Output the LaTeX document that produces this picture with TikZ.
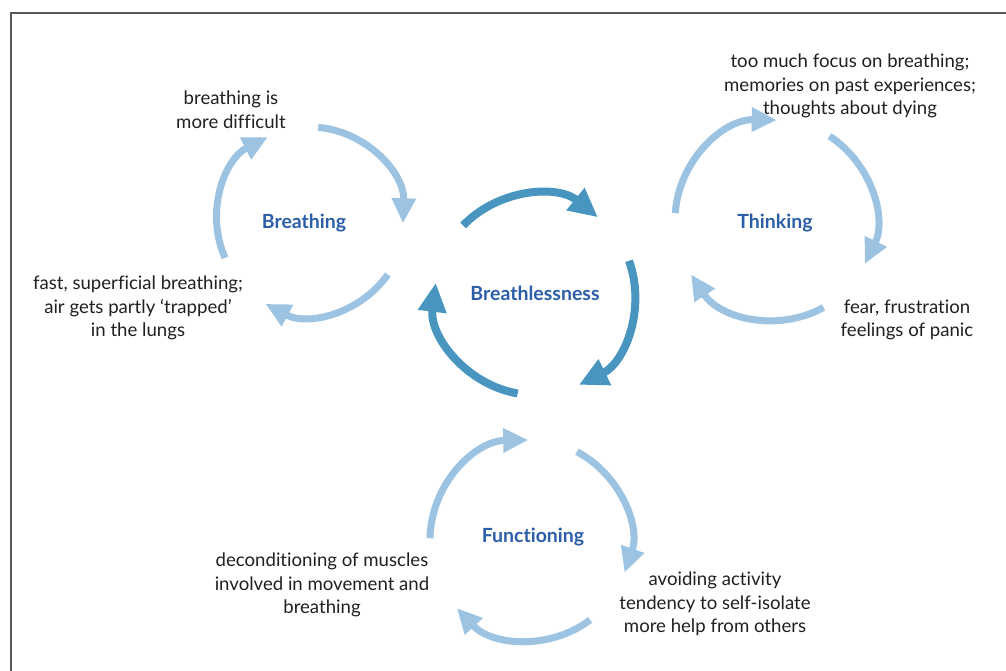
\documentclass[tikz,border=0pt]{standalone}
\usepackage{fontspec}
\setmainfont{Lato}[Ligatures=NoCommon]
\usetikzlibrary{arrows.meta}
\definecolor{lightblue}{RGB}{157,195,226}
\definecolor{darkblue}{RGB}{72,150,192}
\definecolor{labelblue}{RGB}{43,93,168}
\definecolor{textgray}{RGB}{35,31,32}
\tikzset{
  light/.style={lightblue, line width=7, -{Triangle[length=25, width=23]}},
  dark/.style={darkblue, line width=8, -{Triangle[length=29, width=27]}},
  cyclename/.style={labelblue, font=\fontsize{19.5}{22}\selectfont\bfseries},
  effect/.style={textgray, align=center, font=\fontsize{18.6}{23.6}\selectfont}
}
\begin{document}
\begin{tikzpicture}[x=1pt, y=1pt]
\useasboundingbox (0,0) rectangle (1006,-671);
\draw[gray!70!black, line width=1.5] (11,-675) -- (11,-13) -- (1010,-13);

\coordinate (bc) at (310,-220);
\coordinate (lc) at (535,-295);
\coordinate (tc) at (775,-220);
\coordinate (fc) at (530,-540);

\node[cyclename] (br) at (304,-223) {Breathing};
\node[cyclename] (bl) at (535,-293) {Breathlessness};
\node[cyclename] (th) at (775,-223) {Thinking};
\node[cyclename] (fn) at (533,-537) {Functioning};

\node[effect] (difficult) at (231,-110) {breathing is\\more difficult};
\node[effect] (fast) at (138,-308) {fast, superficial breathing;\\air gets partly ‘trapped’\\in the lungs};
\node[effect] (focus) at (850,-86) {too much focus on breathing;\\memories on past experiences;\\thoughts about dying};
\node[effect] (fear) at (907,-320) {fear, frustration\\feelings of panic};
\node[effect] (decond) at (322,-585) {deconditioning of muscles\\involved in movement and\\breathing};
\node[effect] (avoid) at (715,-604) {avoiding activity\\tendency to self-isolate\\more help from others};

\draw[light] ([shift={(85:93)}]bc) arc[radius=93, start angle=85, end angle=-2];
\draw[light] ([shift={(-35:95)}]bc) arc[radius=95, start angle=-35, end angle=-118];
\draw[light] ([shift={(204:93)}]bc) arc[radius=93, start angle=204, end angle=117];

\draw[dark] ([shift={(136:100)}]lc) arc[radius=100, start angle=136, end angle=51];
\draw[dark] ([shift={(20:100)}]lc) arc[radius=100, start angle=20, end angle=-64];
\draw[dark] ([shift={(260:100)}]lc) arc[radius=100, start angle=260, end angle=173];

\draw[light] ([shift={(176:100)}]tc) arc[radius=100, start angle=176, end angle=89];
\draw[light] ([shift={(57:100)}]tc) arc[radius=100, start angle=57, end angle=-26];
\draw[light] ([shift={(-61:100)}]tc) arc[radius=100, start angle=-61, end angle=-147];

\draw[light] ([shift={(179:100)}]fc) arc[radius=100, start angle=179, end angle=91];
\draw[light] ([shift={(62:100)}]fc) arc[radius=100, start angle=62, end angle=-19];
\draw[light] ([shift={(-53:100)}]fc) arc[radius=100, start angle=-53, end angle=-137];
\end{tikzpicture}
\end{document}
